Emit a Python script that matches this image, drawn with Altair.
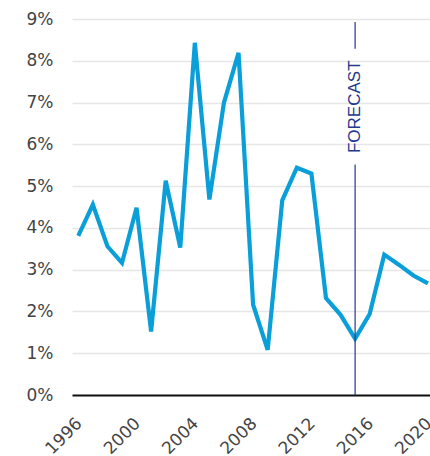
import altair as alt
import pandas as pd

years = list(range(1996, 2021))
growth = [3.81, 4.56, 3.56, 3.16, 4.48, 1.52, 5.13, 3.53, 8.43, 4.68,
          7.0, 8.19, 2.16, 1.08, 4.66, 5.44, 5.30, 2.32, 1.92, 1.35,
          1.94, 3.36, 3.12, 2.86, 2.67]
tick_years = [1996, 2000, 2004, 2008, 2012, 2016, 2020]
y_ticks = [0, 1, 2, 3, 4, 5, 6, 7, 8, 9]
forecast_year = 2015
forecast_label = "FORECAST"

df = pd.DataFrame({"year": years, "growth": growth})

FONT = "DejaVu Sans"
LINE_COLOR = "#0b9fda"
NAVY = "#24398c"

x_scale = alt.Scale(domain=[1995.57, 2020.14], nice=False, zero=False)
y_scale = alt.Scale(domain=[0, 9], nice=False)

line = alt.Chart(df).mark_line(color=LINE_COLOR, strokeWidth=4.2, clip=True).encode(
    x=alt.X("year:Q", scale=x_scale,
            axis=alt.Axis(values=tick_years, format="d", labelAngle=-45,
                          labelFontSize=17, labelFont=FONT, labelColor="#444444",
                          labelPadding=20, labelOffset=-5, ticks=False, grid=False,
                          domainColor="#111111", domainWidth=2, title=None)),
    y=alt.Y("growth:Q", scale=y_scale,
            axis=alt.Axis(values=y_ticks, labelExpr="datum.value + '%'",
                          labelFontSize=17, labelFont=FONT, labelColor="#444444",
                          labelPadding=19, ticks=False, domain=False,
                          grid=True, gridColor="#e6e6e6", gridWidth=1.6,
                          title=None)),
)

rule_df = pd.DataFrame({"x": [forecast_year, forecast_year],
                        "y": [8.93, 5.52], "y2": [8.29, 0.0]})
rule = alt.Chart(rule_df).mark_rule(color=NAVY, strokeWidth=1.2).encode(
    x=alt.X("x:Q", scale=x_scale),
    y=alt.Y("y:Q", scale=y_scale),
    y2="y2:Q",
)

text_df = pd.DataFrame({"x": [forecast_year], "y": [6.9], "t": [forecast_label]})
text = alt.Chart(text_df).mark_text(angle=270, align="center", baseline="middle",
                                    font="Liberation Sans", fontSize=17,
                                    color=NAVY).encode(
    x=alt.X("x:Q", scale=x_scale),
    y=alt.Y("y:Q", scale=y_scale),
    text="t:N",
)

chart = alt.layer(line, rule, text).properties(
    width=358, height=376,
    autosize=alt.AutoSizeParams(type="none"),
    padding={"left": 72, "top": 19, "right": 0, "bottom": 61},
).configure_view(stroke=None)

chart.save("out.html", embed_options={"renderer": "svg", "actions": False})
